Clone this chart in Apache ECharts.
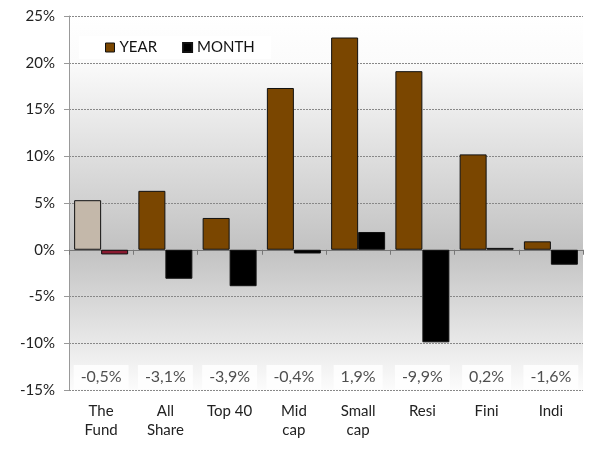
<!DOCTYPE html>
<html>
<head>
<meta charset="utf-8">
<script src="https://cdn.jsdelivr.net/npm/echarts@6/dist/echarts.min.js"></script>
<style>
  html, body { margin: 0; padding: 0; background: #fff; }
  #chart { width: 610px; height: 455px; }
</style>
</head>
<body>
<div id="chart"></div>
<script>
var categories = ['The\nFund', 'All\nShare', 'Top 40', 'Mid\ncap', 'Small\ncap', 'Resi', 'Fini', 'Indi'];
var yearValues = [5.3, 6.3, 3.4, 17.3, 22.7, 19.1, 10.2, 0.9];
var monthValues = [-0.5, -3.1, -3.9, -0.4, 1.9, -9.9, 0.2, -1.6];
var monthLabels = ['-0,5%', '-3,1%', '-3,9%', '-0,4%', '1,9%', '-9,9%', '0,2%', '-1,6%'];
var yTicks = { min: -15, max: 25, step: 5 };
var labelLevel = -13.6;

var FONT = 'Lato, "Noto Sans", sans-serif';
var chart = echarts.init(document.getElementById('chart'));

// the fund gets its own colours
var yearData = yearValues.map(function (v, i) {
    return i === 0 ? { value: v, itemStyle: { color: '#c4b8aa' } } : v;
});
var monthData = monthValues.map(function (v, i) {
    return i === 0 ? { value: v, itemStyle: { color: '#8a1a30' } } : v;
});

var option = {
    animation: false,
    textStyle: { fontFamily: FONT },
    grid: {
        left: 69, right: 27, top: 16, bottom: 65,
        show: true,
        borderWidth: 0,
        backgroundColor: new echarts.graphic.LinearGradient(0, 0, 0, 1, [
            { offset: 0, color: '#ffffff' },
            { offset: 0.12, color: '#fbfbfb' },
            { offset: 0.625, color: '#c2c2c2' },
            { offset: 1, color: '#fcfcfc' }
        ])
    },
    legend: {
        left: 79, top: 36,
        backgroundColor: '#fff',
        padding: [4, 16, 4, 26],
        itemWidth: 9, itemHeight: 9, itemGap: 25,
        icon: 'rect',
        textStyle: { fontSize: 15, color: '#111', fontFamily: FONT },
        data: [
            { name: 'YEAR', itemStyle: { color: '#7a4600', borderColor: '#111', borderWidth: 1 } },
            { name: 'MONTH', itemStyle: { color: '#000' } }
        ]
    },
    xAxis: [
        {
            type: 'category',
            data: categories,
            position: 'bottom',
            axisLine: { show: false, onZero: false },
            axisTick: { show: false },
            axisLabel: { fontSize: 15, color: '#222', margin: 12, lineHeight: 19, fontFamily: FONT }
        },
        {
            type: 'category',
            data: categories,
            position: 'bottom',
            axisLine: { show: true, onZero: true, lineStyle: { color: '#777', width: 1 } },
            axisTick: { show: true, length: 5, lineStyle: { color: '#777' } },
            axisLabel: { show: false }
        }
    ],
    yAxis: {
        type: 'value',
        min: yTicks.min, max: yTicks.max, interval: yTicks.step,
        axisLine: { show: true, lineStyle: { color: '#999' } },
        axisTick: { show: true, length: 5, lineStyle: { color: '#999' } },
        axisLabel: { formatter: '{value}%', fontSize: 15, color: '#222', margin: 14, fontFamily: FONT },
        splitLine: { show: true, lineStyle: { color: '#888', type: [2, 1], width: 1 } }
    },
    series: [
        {
            name: 'YEAR',
            type: 'bar',
            data: yearData,
            barGap: '0%',
            barCategoryGap: '16%',
            itemStyle: { color: '#7a4600', borderColor: '#111', borderWidth: 1 }
        },
        {
            name: 'MONTH',
            type: 'bar',
            data: monthData,
            itemStyle: { color: '#000', borderColor: '#111', borderWidth: 1 }
        },
        {
            name: 'labels',
            type: 'scatter',
            symbolSize: 0,
            silent: true,
            data: monthLabels.map(function (t, i) { return [i, labelLevel]; }),
            label: {
                show: true,
                position: 'inside',
                formatter: function (p) { return monthLabels[p.dataIndex]; },
                backgroundColor: '#fff',
                padding: [4, 7, 4, 7],
                fontSize: 16,
                color: '#222',
                fontFamily: FONT
            }
        }
    ]
};

chart.setOption(option);
</script>
</body>
</html>
